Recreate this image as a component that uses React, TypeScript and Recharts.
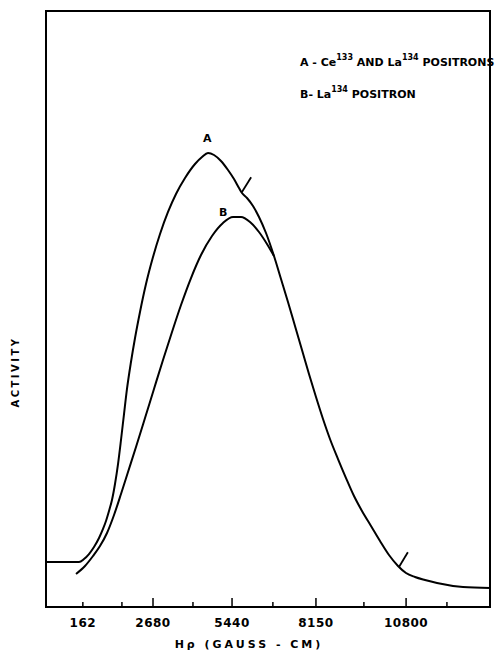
import { LineChart, Line, XAxis, YAxis, ReferenceArea, ReferenceLine, ReferenceDot } from "recharts";

// positions along the H-rho scale (0..100 of plot width) and relative activity (0..100)
const curveAx = [0, 7.43, 8.56, 9.68, 10.81, 11.94, 12.84, 13.51, 14.19, 14.86, 15.54, 16.22, 16.89, 17.57, 18.24, 19.14, 20.05, 21.17, 22.52, 24.1, 25.68, 27.48, 29.28, 31.31, 33.56, 35.14, 36.49, 37.84, 39.41, 40.99, 42.34, 43.47, 44.14, 45.27, 46.62, 47.97, 49.55, 51.35, 52.93, 54.5, 56.08, 57.66, 59.23, 60.81, 62.39, 63.96, 65.77, 67.57, 69.37, 71.17, 73.2, 75.23, 77.25, 79.28, 81.08, 83.11, 85.36, 88.06, 93.92, 100];
const curveAy = [7.55, 7.55, 8.05, 8.89, 10.07, 11.58, 13.09, 14.43, 16.11, 17.95, 20.64, 23.99, 28.02, 32.38, 36.58, 41.11, 45.13, 49.5, 54.19, 58.72, 62.58, 66.28, 69.3, 71.98, 74.33, 75.5, 76.17, 75.84, 74.83, 73.32, 71.81, 70.3, 69.46, 68.62, 67.28, 65.44, 62.75, 58.89, 55.03, 51.17, 47.15, 43.12, 39.09, 35.23, 31.54, 28.19, 24.83, 21.64, 18.62, 16.11, 13.59, 11.07, 8.72, 6.88, 5.7, 5.03, 4.53, 4.03, 3.36, 3.19];

const curveBx = [6.76, 8.78, 10.59, 12.16, 13.74, 15.32, 16.89, 18.47, 20.27, 22.3, 24.32, 26.35, 28.38, 30.41, 32.66, 34.91, 37.39, 39.86, 42.12, 43.92, 45.95, 47.97, 49.77, 51.35];
const curveBy = [5.54, 6.88, 8.56, 10.23, 12.42, 15.44, 18.96, 22.65, 26.85, 31.71, 36.58, 41.44, 46.14, 50.67, 55.2, 59.06, 62.25, 64.43, 65.44, 65.44, 64.6, 62.92, 60.91, 58.89];

const tickPos = [8.3, 17.1, 24.1, 33.1, 41.9, 51.1, 60.8, 71.6, 81.1, 90.3];
const tickText = ["162", "", "2680", "", "5440", "", "8150", "", "10800", ""];
const tickTall = [false, false, true, false, true, false, true, false, true, false];

const dataA = curveAx.map((x, i) => ({ x, y: curveAy[i] }));
const dataB = curveBx.map((x, i) => ({ x, y: curveBy[i] }));

const font = "'DejaVu Sans', sans-serif";

function Tick(props: any) {
  const { x, y, payload } = props;
  const i = tickPos.indexOf(payload.value);
  const len = tickTall[i] ? 9 : 5;
  return (
    <g>
      <line x1={x} x2={x} y1={y} y2={y - len} stroke="#000" strokeWidth={1.5} />
      <text x={x} y={y + 20} textAnchor="middle" fontFamily={font} fontWeight="bold" fontSize={12} letterSpacing={0.5} fill="#000">
        {tickText[i]}
      </text>
    </g>
  );
}

export default function App() {
  return (
    <div style={{ position: "absolute", left: 0, top: 0, width: 495, height: 653, background: "#fff" }}>
      <LineChart width={495} height={653} margin={{ top: 11, right: 5, left: 46, bottom: 0 }}>
        <XAxis
          dataKey="x"
          type="number"
          domain={[0, 100]}
          ticks={tickPos}
          interval={0}
          tickSize={0}
          tickMargin={0}
          tickLine={false}
          tick={<Tick />}
          height={46}
          axisLine={{ stroke: "#000", strokeWidth: 2 }}
        />
        <YAxis type="number" domain={[0, 100]} hide />
        <ReferenceArea x1={0} x2={100} y1={0} y2={100} fill="none" stroke="#000" strokeWidth={2} ifOverflow="visible" />
        <Line data={dataA} dataKey="y" type="monotone" stroke="#000" strokeWidth={2} strokeLinejoin="round" dot={false} isAnimationActive={false} />
        <Line data={dataB} dataKey="y" type="monotone" stroke="#000" strokeWidth={2} strokeLinejoin="round" dot={false} isAnimationActive={false} />
        <ReferenceLine segment={[{ x: 44.1, y: 69.6 }, { x: 46.2, y: 72.1 }]} stroke="#000" strokeWidth={1.8} />
        <ReferenceLine segment={[{ x: 79.5, y: 6.7 }, { x: 81.5, y: 9.2 }]} stroke="#000" strokeWidth={1.8} />
        <ReferenceDot x={36.3} y={78.7} r={0} label={{ value: "A", position: "center", fontFamily: font, fontWeight: "bold", fontSize: 11, fill: "#000" }} />
        <ReferenceDot x={39.9} y={66.3} r={0} label={{ value: "B", position: "center", fontFamily: font, fontWeight: "bold", fontSize: 11, fill: "#000" }} />
      </LineChart>
      <svg width={495} height={653} style={{ position: "absolute", left: 0, top: 0, pointerEvents: "none" }}>
        <g fontFamily={font} fontWeight="bold" fill="#000">
          <text x={300} y={66} fontSize={11}>
            A - Ce<tspan dy={-6} fontSize={8}>133</tspan>
            <tspan dy={6}> AND La</tspan>
            <tspan dy={-6} fontSize={8}>134</tspan>
            <tspan dy={6}> POSITRONS</tspan>
          </text>
          <text x={300} y={98} fontSize={11}>
            B- La<tspan dy={-6} fontSize={8}>134</tspan>
            <tspan dy={6}> POSITRON</tspan>
          </text>
          <text x={249} y={648} textAnchor="middle" fontSize={11} letterSpacing={3}>
            Hρ  (GAUSS - CM)
          </text>
          <text transform="translate(19,372) rotate(-90)" textAnchor="middle" fontSize={10} letterSpacing={2.5}>
            ACTIVITY
          </text>
        </g>
      </svg>
    </div>
  );
}
